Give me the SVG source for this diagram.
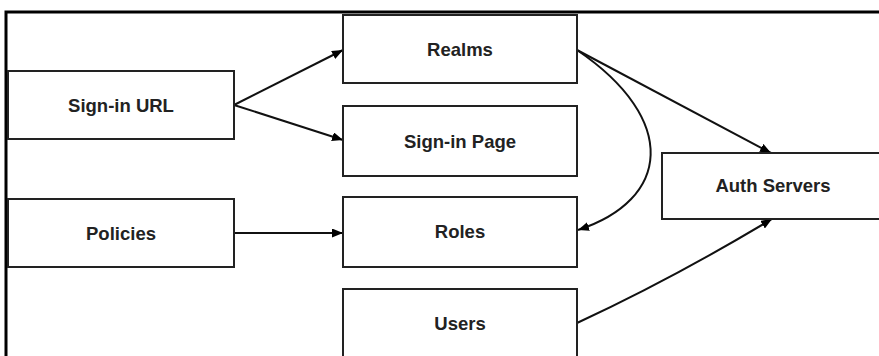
<svg xmlns="http://www.w3.org/2000/svg" width="879" height="356" viewBox="0 0 879 356">
<style>
.box{fill:#fff;stroke:#222;stroke-width:2}
.lbl{font-family:"Liberation Sans",Arial,sans-serif;font-weight:bold;font-size:18.5px;fill:#222;text-anchor:middle}
.edge{fill:none;stroke:#111;stroke-width:2}
.frame{stroke:#000;stroke-width:3;fill:none}
</style>
<defs>
<marker id="ah" viewBox="0 0 11 9" refX="11" refY="4.5" markerWidth="11" markerHeight="9" markerUnits="userSpaceOnUse" orient="auto">
<path d="M0,0 L11,4.5 L0,9 Z" fill="#000"/>
</marker>
</defs>
<rect width="879" height="356" fill="#fff"/>
<path class="frame" d="M6,356 L6,12 L879,12"/>
<g id="connectors">
<path class="edge" d="M234,105 L343,50" marker-end="url(#ah)"/>
<path class="edge" d="M234,105 L343,140" marker-end="url(#ah)"/>
<path class="edge" d="M234,233 L343,233" marker-end="url(#ah)"/>
<path class="edge" d="M577,50 L771,153" marker-end="url(#ah)"/>
<path class="edge" d="M577,50 C680,120 670,200 578,230" marker-end="url(#ah)"/>
<path class="edge" d="M577,323 Q672,279 772,219" marker-end="url(#ah)"/>
</g>
<g id="signin-url"><rect class="box" x="8" y="71" width="226" height="68"/><text class="lbl" x="121" y="111.5">Sign-in URL</text></g>
<g id="policies"><rect class="box" x="8" y="199" width="226" height="68"/><text class="lbl" x="121" y="239.5">Policies</text></g>
<g id="realms"><rect class="box" x="343" y="15" width="234" height="68"/><text class="lbl" x="460" y="55.5">Realms</text></g>
<g id="signin-page"><rect class="box" x="343" y="106" width="234" height="70"/><text class="lbl" x="460" y="147.5">Sign-in Page</text></g>
<g id="roles"><rect class="box" x="343" y="197" width="234" height="70"/><text class="lbl" x="460" y="238">Roles</text></g>
<g id="users"><rect class="box" x="343" y="289" width="234" height="70"/><text class="lbl" x="460" y="330">Users</text></g>
<g id="auth-servers"><rect class="box" x="662" y="153" width="222" height="66"/><text class="lbl" x="773" y="192">Auth Servers</text></g>
</svg>
